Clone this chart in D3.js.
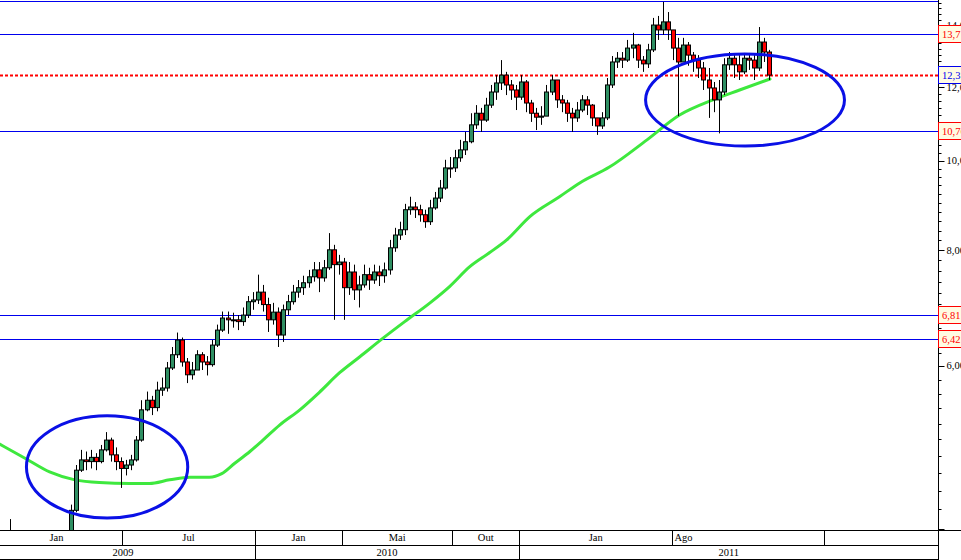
<!DOCTYPE html>
<html><head><meta charset="utf-8">
<script src="https://cdn.jsdelivr.net/npm/d3@7"></script>
<style>html,body{margin:0;padding:0;background:#fff;overflow:hidden}</style>
</head><body><svg id="c" width="961" height="560"></svg>
<script>
// ---------- data ----------
const firstWeek = "2009-01-13";           // weekly candles start
const openValues = [3.50,3.55,3.96,3.88,3.72,3.60,3.50,3.45,3.52,3.60,3.55,3.50,3.60,3.70,
 3.85,4.19,4.63,4.75,4.73,4.78,4.73,4.87,4.99,4.81,
 4.73,4.65,4.69,4.75,4.99,5.38,5.51,5.41,5.65,5.68,
 5.97,6.17,6.40,6.06,5.87,5.94,6.17,6.06,6.02,6.32,
 6.56,6.76,6.73,6.73,6.70,6.81,7.04,7.07,7.21,6.99,
 6.73,6.86,6.48,6.90,7.04,7.21,7.29,7.38,7.49,7.62,
 7.47,7.66,8.01,7.72,7.77,7.29,7.58,7.25,7.34,7.53,
 7.43,7.58,7.51,7.62,8.05,8.31,8.42,8.85,8.91,8.85,
 8.74,8.59,8.89,9.11,9.34,9.82,9.82,10.07,10.27,10.48,
 10.93,11.25,11.06,11.48,11.86,12.13,12.37,12.07,11.92,11.71,
 12.16,11.54,11.25,11.14,11.17,11.86,12.22,11.63,11.54,11.25,
 11.12,11.34,11.63,11.48,11.12,10.90,11.12,12.07,12.78,12.90,
 12.84,13.23,13.33,12.84,12.72,13.17,14.01,13.84,14.12,13.84,
 13.23,12.78,13.33,13.00,12.84,12.59,12.22,11.98,11.63,11.86,
 12.69,12.90,12.69,12.47,12.90,12.84,12.59,13.43,13.10];
const highValues = [3.62,3.98,4.10,3.90,3.75,3.62,3.55,3.58,3.66,3.64,3.58,3.64,3.74,3.90,
 4.25,4.69,4.87,4.85,4.87,4.83,4.93,5.09,5.02,4.90,
 4.78,4.75,4.81,5.04,5.51,5.63,5.57,5.77,5.83,6.06,
 6.29,6.52,6.44,6.12,6.06,6.24,6.21,6.15,6.40,6.65,
 6.87,6.87,6.85,6.81,6.94,7.14,7.21,7.53,7.34,7.11,
 7.02,6.94,6.99,7.16,7.34,7.43,7.51,7.62,7.77,7.77,
 7.81,8.35,8.11,7.91,7.85,7.77,7.72,7.51,7.72,7.66,
 7.72,7.70,7.76,8.21,8.46,8.59,8.98,9.14,9.02,8.96,
 8.85,9.07,9.25,9.53,10.02,10.09,10.27,10.53,10.74,11.25,
 11.48,11.40,11.69,12.07,12.37,12.84,12.47,12.22,12.07,12.37,
 12.22,11.63,11.40,11.45,12.07,12.37,12.22,11.77,11.63,11.40,
 11.57,11.77,11.74,11.51,11.12,11.28,12.28,12.97,13.10,13.10,
 13.50,13.74,13.37,12.97,13.37,14.26,14.33,14.84,14.47,13.84,
 13.57,13.57,13.43,13.10,13.00,12.78,12.59,12.16,12.22,12.90,
 13.10,13.00,13.00,13.07,13.07,13.00,13.94,13.57,13.17];
const lowValues = [3.45,3.52,3.80,3.68,3.55,3.44,3.38,3.42,3.50,3.48,3.45,3.48,3.58,3.68,
 3.89,4.17,4.61,4.63,4.65,4.63,4.71,4.85,4.73,4.63,
 4.43,4.57,4.63,4.73,4.97,5.36,5.31,5.36,5.57,5.63,
 5.94,6.12,5.99,5.75,5.80,5.99,5.94,5.86,5.99,6.29,
 6.53,6.50,6.60,6.56,6.63,6.76,6.90,7.00,6.87,6.53,
 6.65,6.29,6.37,6.81,6.99,7.11,7.16,7.29,7.40,7.21,
 7.40,7.62,6.73,7.53,6.73,7.16,7.07,6.94,7.29,7.25,
 7.36,7.32,7.38,7.53,7.97,8.21,8.31,8.74,8.67,8.59,
 8.46,8.52,8.85,9.02,9.30,9.58,9.72,9.97,10.14,10.44,
 10.82,10.74,11.01,11.40,11.63,11.92,11.77,11.63,11.34,11.63,
 11.28,11.01,10.79,10.93,11.20,11.77,11.40,11.28,11.01,10.74,
 11.01,11.28,11.20,10.90,10.66,10.82,11.06,11.98,12.59,12.59,
 12.78,12.90,12.59,12.47,12.59,13.10,13.50,13.67,13.50,12.84,
 11.17,12.84,12.66,12.47,12.28,11.92,11.12,11.28,10.70,11.77,
 12.53,12.28,12.22,12.40,12.53,12.22,12.50,12.78,12.22];
const closeValues = [3.55,3.96,3.88,3.72,3.60,3.50,3.45,3.52,3.60,3.55,3.50,3.60,3.70,3.85,
 4.19,4.63,4.75,4.73,4.78,4.73,4.87,4.99,4.81,4.73,
 4.65,4.69,4.75,4.99,5.38,5.51,5.41,5.65,5.68,5.97,
 6.17,6.40,6.06,5.87,5.94,6.17,6.06,6.02,6.32,6.56,
 6.76,6.73,6.73,6.70,6.81,7.04,7.07,7.21,6.99,6.73,
 6.86,6.48,6.90,7.04,7.21,7.29,7.38,7.49,7.62,7.47,
 7.66,8.01,7.72,7.77,7.29,7.58,7.25,7.34,7.53,7.43,
 7.58,7.51,7.62,8.05,8.31,8.42,8.85,8.91,8.85,8.74,
 8.59,8.89,9.11,9.34,9.82,9.82,10.07,10.27,10.48,10.93,
 11.25,11.06,11.48,11.86,12.13,12.37,12.07,11.92,11.71,12.16,
 11.54,11.25,11.14,11.17,11.86,12.22,11.63,11.54,11.25,11.12,
 11.34,11.63,11.48,11.12,10.90,11.12,12.07,12.78,12.90,12.84,
 13.23,13.33,12.84,12.72,13.17,14.01,13.84,14.12,13.84,13.23,
 12.78,13.33,13.00,12.84,12.59,12.22,11.98,11.63,11.86,12.69,
 12.90,12.69,12.47,12.90,12.84,12.59,13.43,13.10,12.37];

const maDates = ["2009-01-13","2009-02-17","2009-03-23","2009-04-27","2009-05-31","2009-07-12","2009-08-08",
 "2009-09-05","2009-10-03","2009-10-30","2009-11-16","2009-12-04","2009-12-25","2010-01-12","2010-02-04",
 "2010-03-04","2010-03-31","2010-04-28","2010-05-26","2010-06-27","2010-07-27","2010-08-31","2010-09-27",
 "2010-10-25","2010-11-21","2010-12-15","2011-01-16","2011-02-26","2011-03-26","2011-05-06","2011-06-27",
 "2011-08-11","2011-09-26","2011-11-02","2011-12-14"];
const maValues = [4.94,4.77,4.61,4.52,4.49,4.48,4.48,4.52,4.55,4.55,4.59,4.71,4.85,4.99,5.18,
 5.38,5.62,5.90,6.14,6.43,6.70,7.02,7.31,7.68,7.95,8.21,8.70,9.14,9.46,9.84,10.53,
 11.20,11.63,11.92,12.25];

const levelValues = [14.87, 13.71, 12.37, 10.76, 6.81, 6.42];
const levelLabels = ["", "13,71", "12,37", "10,76", "6,81", "6,42"];
const levelKinds  = ["line", "line", "last", "line", "line", "line"];

const majorTickValues = [6, 8, 10, 12, 14];
const majorTickLabels = ["6,00", "8,00", "10,00", "12,00", "14,00"];

const monthBreaks = ["2009-01-01","2009-07-01","2010-01-01","2010-05-01","2010-10-01","2011-01-01","2011-08-01","2012-02-26"];
const monthLabels = ["Jan","Jul","Jan","Mai","Out","Jan","Ago",""];
const yearBreaks = ["2009-01-01","2010-01-01","2011-01-01"];
const yearLabels = ["2009","2010","2011"];

const ellipseDates  = [["2009-02-19","2009-09-30"], ["2011-06-25","2012-03-26"]];
const ellipsePrices = [[5.30, 4.11], [13.04, 10.37]];

// ---------- drawing ----------
const parse = d3.timeParse("%Y-%m-%d");
const W = 961, H = 560, axisX = 938.5, plotBottom = 530, row2 = 545, row3 = 559;
const font = "'Liberation Serif','Times New Roman',serif";

const x = d3.scaleTime().domain([parse("2010-01-01"), parse("2011-01-01")]).range([255, 519]);
const y = d3.scaleLog().domain([3.99, 14.91]).range([plotBottom, 0]);

const svg = d3.select("#c");
svg.append("rect").attr("width", W).attr("height", H).attr("fill", "#fff");
svg.append("clipPath").attr("id", "plot").append("rect")
  .attr("x", 0).attr("y", 0).attr("width", axisX).attr("height", plotBottom);
const plot = svg.append("g").attr("clip-path", "url(#plot)");

// level lines
levelValues.forEach((v, i) => {
  const yy = Math.round(y(v)) + 0.5;
  const ln = plot.append("line").attr("x1", 0).attr("x2", axisX).attr("y1", yy).attr("y2", yy);
  if (levelKinds[i] === "last") ln.attr("stroke", "#ff0000").attr("stroke-width", 2).attr("stroke-dasharray", "3,2");
  else ln.attr("stroke", "#0000ee").attr("stroke-width", 1);
});

// moving average
const ma = maDates.map((d, i) => ({ d: parse(d), v: maValues[i] }));
plot.append("path").datum(ma)
  .attr("fill", "none").attr("stroke", "#3ee83e").attr("stroke-width", 3)
  .attr("stroke-linecap", "round")
  .attr("d", d3.line().x(p => x(p.d)).y(p => y(p.v)).curve(d3.curveMonotoneX));

// candles
const start = parse(firstWeek);
const candles = closeValues.map((c, i) => ({
  d: d3.timeDay.offset(start, 7 * i), o: openValues[i], h: highValues[i], l: lowValues[i], c
}));
const cg = plot.append("g");
candles.forEach(k => {
  const cx = Math.round(x(k.d)) + 0.5;
  cg.append("line").attr("x1", cx).attr("x2", cx)
    .attr("y1", y(k.h)).attr("y2", y(k.l)).attr("stroke", "#000").attr("stroke-width", 1);
  const top = y(Math.max(k.o, k.c)), bot = y(Math.min(k.o, k.c));
  cg.append("rect").attr("x", cx - 2).attr("y", top)
    .attr("width", 4).attr("height", Math.max(1, bot - top))
    .attr("fill", k.c < k.o ? "#ff0000" : "#2f8f63")
    .attr("stroke", "#000").attr("stroke-width", 1);
});

// ellipses
ellipseDates.forEach((dd, i) => {
  const x0 = x(parse(dd[0])), x1 = x(parse(dd[1]));
  const y0 = y(ellipsePrices[i][0]), y1 = y(ellipsePrices[i][1]);
  svg.append("ellipse").attr("cx", (x0 + x1) / 2).attr("cy", (y0 + y1) / 2)
    .attr("rx", (x1 - x0) / 2).attr("ry", (y1 - y0) / 2)
    .attr("fill", "none").attr("stroke", "#0a10e6").attr("stroke-width", 3);
});

// right axis
svg.append("line").attr("x1", axisX).attr("x2", axisX).attr("y1", 0).attr("y2", H)
  .attr("stroke", "#000").attr("stroke-width", 1);
const minor = d3.range(40, 150, 2).map(v => v / 10);
minor.forEach(v => {
  const yy = Math.round(y(v)) + 0.5;
  const major = Math.abs(v - Math.round(v)) < 1e-9 && Math.round(v) % 2 === 0;
  svg.append("line").attr("x1", axisX).attr("x2", axisX + (major ? 6 : 3))
    .attr("y1", yy).attr("y2", yy).attr("stroke", "#000").attr("stroke-width", 1);
});
majorTickValues.forEach((v, i) => {
  svg.append("text").attr("x", 946.5).attr("y", y(v) + 3.5)
    .attr("font-family", font).attr("font-size", 10.5).attr("fill", "#000")
    .text(majorTickLabels[i]);
});

// level label boxes
levelValues.forEach((v, i) => {
  if (!levelLabels[i]) return;
  const yy = Math.round(y(v));
  const col = levelKinds[i] === "last" ? "#0000ee" : "#ff0000";
  svg.append("rect").attr("x", axisX).attr("y", yy - 8.5).attr("width", 40).attr("height", 17)
    .attr("fill", "#fffbe3").attr("stroke", col).attr("stroke-width", 1);
  svg.append("text").attr("x", 942).attr("y", yy + 4)
    .attr("font-family", font).attr("font-size", 10.5).attr("fill", col)
    .text(levelLabels[i]);
});

// bottom date table
[[plotBottom, W], [row2, axisX], [row3, axisX]].forEach(([yy, x2]) => {
  svg.append("line").attr("x1", 0).attr("x2", x2).attr("y1", yy + 0.5).attr("y2", yy + 0.5)
    .attr("stroke", "#000").attr("stroke-width", 1);
});
const mb = monthBreaks.map(parse);
mb.forEach((d, i) => {
  const xx = Math.round(x(d)) + 0.5;
  if (xx > 0 && xx < axisX) svg.append("line").attr("x1", xx).attr("x2", xx)
    .attr("y1", plotBottom).attr("y2", row2).attr("stroke", "#000");
  if (!monthLabels[i]) return;
  const end = i + 1 < mb.length ? mb[i + 1] : null;
  let cx;
  if (end && d3.timeMonth.count(d, end) <= 7 && i !== mb.length - 2) cx = (x(d) + x(end)) / 2;
  else cx = (x(d) + x(d3.timeMonth.offset(d, 1))) / 2;
  svg.append("text").attr("x", cx).attr("y", 540.5).attr("text-anchor", "middle")
    .attr("font-family", font).attr("font-size", 10.5).text(monthLabels[i]);
});
const yb = yearBreaks.map(parse);
yb.forEach((d, i) => {
  const xx = Math.round(x(d)) + 0.5;
  if (xx > 0) svg.append("line").attr("x1", xx).attr("x2", xx)
    .attr("y1", row2).attr("y2", row3).attr("stroke", "#000");
  const x1 = i + 1 < yb.length ? x(yb[i + 1]) : axisX;
  svg.append("text").attr("x", (x(d) + x1) / 2).attr("y", 555.5).attr("text-anchor", "middle")
    .attr("font-family", font).attr("font-size", 10.5).text(yearLabels[i]);
});
</script></body></html>
